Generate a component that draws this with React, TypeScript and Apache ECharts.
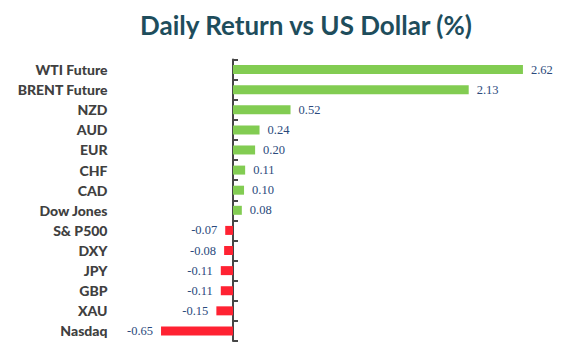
import React, { useEffect, useRef } from "react";
import * as echarts from "echarts";

const categories = [
  "WTI Future",
  "BRENT Future",
  "NZD",
  "AUD",
  "EUR",
  "CHF",
  "CAD",
  "Dow Jones",
  "S& P500",
  "DXY",
  "JPY",
  "GBP",
  "XAU",
  "Nasdaq",
];
const values = [2.62, 2.13, 0.52, 0.24, 0.2, 0.11, 0.1, 0.08, -0.07, -0.08, -0.11, -0.11, -0.15, -0.65];
const titleText = "Daily Return vs US Dollar (%)";

const GREEN = "#82CC52";
const RED = "#FF2232";

export default function App() {
  const ref = useRef<HTMLDivElement>(null);
  useEffect(() => {
    if (!ref.current) return;
    const chart = echarts.init(ref.current, undefined, { renderer: "svg" });
    chart.setOption({
      animation: false,
      backgroundColor: "#ffffff",
      title: {
        text: titleText,
        left: 301,
        textAlign: "center",
        top: 7,
        textStyle: {
          fontFamily: "Lato",
          fontWeight: "bold",
          fontSize: 26,
          color: "#1E4D5C",
        },
      },
      grid: { left: 155.5, right: 22, top: 59.5, bottom: 15, containLabel: false, outerBoundsMode: "none" },
      xAxis: {
        type: "value",
        min: -0.7,
        max: 3.0,
        show: false,
      },
      yAxis: {
        type: "category",
        data: categories,
        inverse: true,
        axisLine: { show: true, onZero: true, lineStyle: { color: "#464646", width: 2 } },
        axisTick: { show: true, inside: true, length: 5, lineStyle: { color: "#464646", width: 2 } },
        axisLabel: {
          margin: 48,
          fontFamily: "Lato",
          fontWeight: 900,
          fontSize: 14,
          color: "#404040",
        },
        splitLine: { show: false },
      },
      series: [
        {
          type: "bar",
          barWidth: 9,
          data: values.map((v) => ({
            value: v,
            itemStyle: { color: v >= 0 ? GREEN : RED },
            label: { position: v >= 0 ? "right" : "left" },
          })),
          label: {
            show: true,
            distance: 8,
            formatter: (p: any) => Number(p.value).toFixed(2),
            fontFamily: "Liberation Serif",
            fontSize: 12.5,
            color: "#2B4A7C",
          },
        },
      ],
    });
    return () => chart.dispose();
  }, []);
  return <div ref={ref} style={{ width: 587, height: 356, position: "absolute", left: 0, top: 0 }} />;
}
